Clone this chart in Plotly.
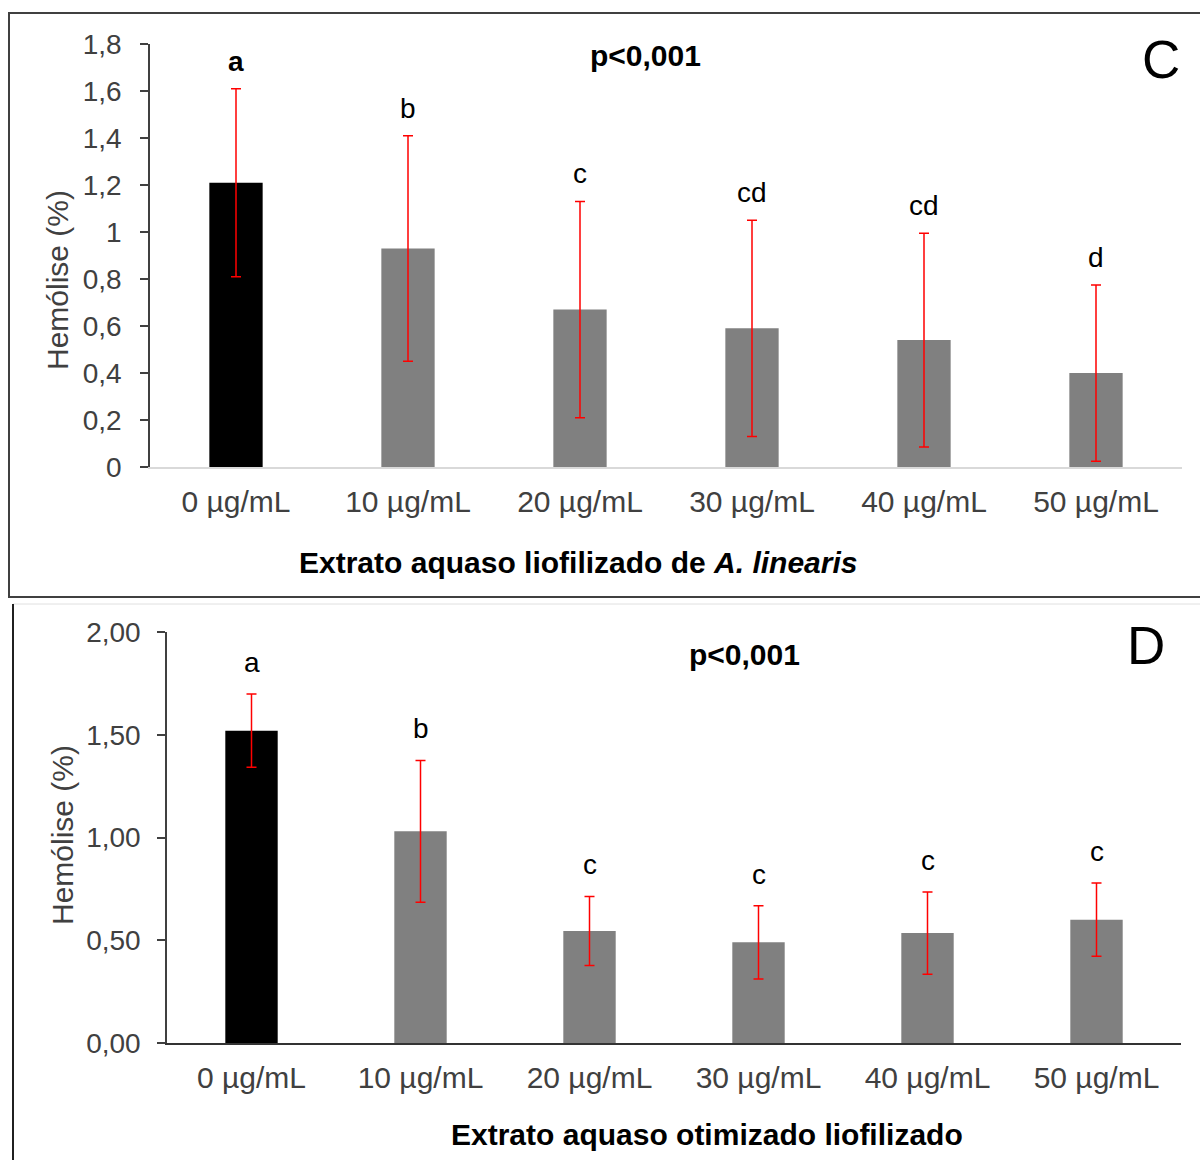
import plotly.graph_objects as go

W, H = 1200, 1160

# ---------------- data ----------------
categories = ["0 µg/mL", "10 µg/mL", "20 µg/mL", "30 µg/mL", "40 µg/mL", "50 µg/mL"]

c_values = [1.21, 0.93, 0.67, 0.59, 0.54, 0.40]
c_sd = [0.40, 0.48, 0.46, 0.46, 0.455, 0.375]
c_letters = ["a", "b", "c", "cd", "cd", "d"]

d_values = [1.52, 1.03, 0.545, 0.49, 0.535, 0.60]
d_sd = [0.178, 0.345, 0.168, 0.178, 0.20, 0.178]
d_letters = ["a", "b", "c", "c", "c", "c"]

c_ticks = [0, 0.2, 0.4, 0.6, 0.8, 1.0, 1.2, 1.4, 1.6, 1.8]
c_ticktext = ["0", "0,2", "0,4", "0,6", "0,8", "1", "1,2", "1,4", "1,6", "1,8"]
d_ticks = [0, 0.5, 1.0, 1.5, 2.0]
d_ticktext = ["0,00", "0,50", "1,00", "1,50", "2,00"]

bar_colors = ["#000000", "#808080", "#808080", "#808080", "#808080", "#808080"]

FONT = "Liberation Sans, Arial, sans-serif"
TXT = "#404040"


def px(x):
    return x / W


def py(y):
    return 1 - y / H


fig = go.Figure()

fig.add_trace(go.Bar(
    x=categories, y=c_values, width=0.31,
    marker=dict(color=bar_colors, line=dict(width=0)),
    error_y=dict(type="data", array=c_sd, visible=True, color="#ff0000", thickness=1.5, width=5),
    xaxis="x", yaxis="y", showlegend=False,
))
fig.add_trace(go.Bar(
    x=categories, y=d_values, width=0.31,
    marker=dict(color=bar_colors, line=dict(width=0)),
    error_y=dict(type="data", array=d_sd, visible=True, color="#ff0000", thickness=1.5, width=5),
    xaxis="x2", yaxis="y2", showlegend=False,
))

yaxis_common = dict(
    showgrid=False, zeroline=False, showline=True, linecolor="#404040", linewidth=1.5,
    ticks="outside", ticklen=8, tickwidth=1.5, tickcolor="#404040", automargin=False,
    tickfont=dict(family=FONT, size=28, color=TXT),
)
xaxis_common = dict(
    type="category", showgrid=False, zeroline=False, showline=True, automargin=False,
    ticks="", tickfont=dict(family=FONT, size=30, color=TXT), ticklabelstandoff=7,
    range=[-0.5, 5.5],
)

fig.update_layout(
    width=W, height=H, autosize=False,
    margin=dict(l=0, r=0, t=0, b=0, pad=0, autoexpand=False),
    paper_bgcolor="white", plot_bgcolor="white",
    showlegend=False,
    xaxis=dict(domain=[px(150), px(1182)], anchor="y", linecolor="#d9d9d9", linewidth=1.5, **xaxis_common),
    yaxis=dict(domain=[py(467), py(44)], anchor="x", range=[0, 1.8], ticklabelstandoff=13,
               tickvals=c_ticks, ticktext=c_ticktext, **yaxis_common),
    xaxis2=dict(domain=[px(167), px(1181)], anchor="y2", linecolor="#333333", linewidth=2, **xaxis_common),
    yaxis2=dict(domain=[py(1043), py(632)], anchor="x2", range=[0, 2.0], ticklabelstandoff=11,
                tickvals=d_ticks, ticktext=d_ticktext, **yaxis_common),
)

ann = []
# significance letters
for i, (cat, v, s, l) in enumerate(zip(categories, c_values, c_sd, c_letters)):
    ann.append(dict(x=cat, y=v + s, xref="x", yref="y", text=("<b>%s</b>" % l) if i == 0 else l,
                    showarrow=False, yanchor="bottom", yshift=10,
                    font=dict(family=FONT, size=28, color="#000000")))
for cat, v, s, l in zip(categories, d_values, d_sd, d_letters):
    ann.append(dict(x=cat, y=v + s, xref="x2", yref="y2", text=l,
                    showarrow=False, yanchor="bottom", yshift=14,
                    font=dict(family=FONT, size=28, color="#000000")))

# p-values and panel letters
ann.append(dict(x=px(645), y=py(56), xref="paper", yref="paper", text="<b>p<0,001</b>",
                showarrow=False, xanchor="center", yanchor="middle",
                font=dict(family=FONT, size=30, color="#000000")))
ann.append(dict(x=px(744), y=py(654), xref="paper", yref="paper", text="<b>p<0,001</b>",
                showarrow=False, xanchor="center", yanchor="middle",
                font=dict(family=FONT, size=30, color="#000000")))
ann.append(dict(x=px(1161), y=py(60), xref="paper", yref="paper", text="C",
                showarrow=False, xanchor="center", yanchor="middle",
                font=dict(family=FONT, size=53, color="#000000")))
ann.append(dict(x=px(1146), y=py(646), xref="paper", yref="paper", text="D",
                showarrow=False, xanchor="center", yanchor="middle",
                font=dict(family=FONT, size=53, color="#000000")))

# axis titles
ann.append(dict(x=px(57), y=py(280), xref="paper", yref="paper", text="Hemólise (%)",
                showarrow=False, textangle=-90, xanchor="center", yanchor="middle",
                font=dict(family=FONT, size=30, color=TXT)))
ann.append(dict(x=px(62), y=py(835), xref="paper", yref="paper", text="Hemólise (%)",
                showarrow=False, textangle=-90, xanchor="center", yanchor="middle",
                font=dict(family=FONT, size=30, color=TXT)))
ann.append(dict(x=px(578), y=py(562), xref="paper", yref="paper",
                text="<b>Extrato aquaso liofilizado de <i>A. linearis</i></b>",
                showarrow=False, xanchor="center", yanchor="middle",
                font=dict(family=FONT, size=30, color="#000000")))
ann.append(dict(x=px(707), y=py(1134), xref="paper", yref="paper",
                text="<b>Extrato aquaso otimizado liofilizado</b>",
                showarrow=False, xanchor="center", yanchor="middle",
                font=dict(family=FONT, size=30, color="#000000")))

fig.update_layout(annotations=ann)

# panel borders
shapes = [
    dict(type="rect", xref="paper", yref="paper", x0=px(9), x1=px(1210), y0=py(597), y1=py(13),
         line=dict(color="#404040", width=2), fillcolor="rgba(0,0,0,0)", layer="below"),
    dict(type="line", xref="paper", yref="paper", x0=px(13), x1=px(1210), y0=py(604), y1=py(604),
         line=dict(color="#e0e0e0", width=1)),
    dict(type="line", xref="paper", yref="paper", x0=px(13), x1=px(13), y0=py(604), y1=py(1170),
         line=dict(color="#202020", width=2)),
]
fig.update_layout(shapes=shapes)

fig.write_html("out.html")
